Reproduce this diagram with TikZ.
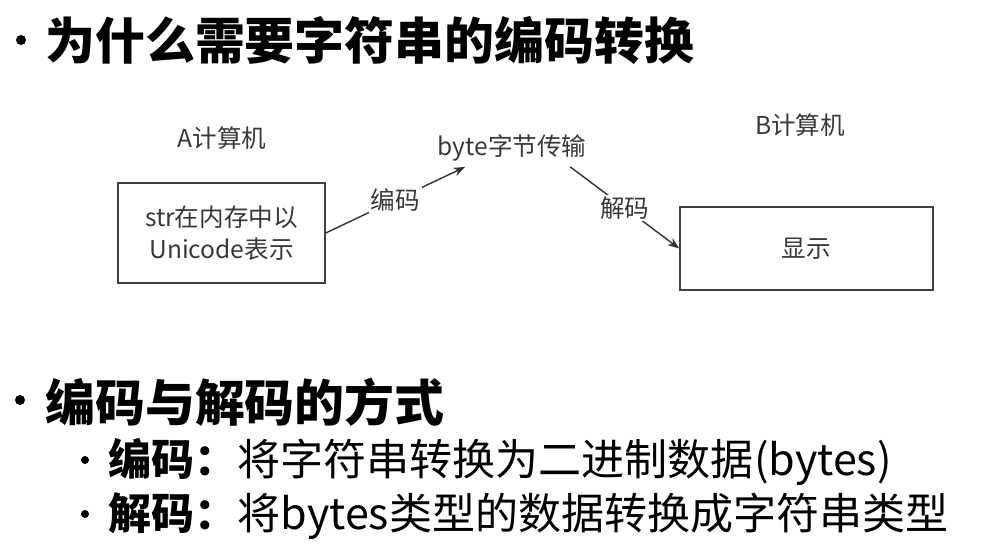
\documentclass[tikz,border=0pt]{standalone}
\usepackage{fontspec}
\setmainfont{Noto Sans CJK SC}
\usepackage{tikz}
\usetikzlibrary{arrows.meta}

\begin{document}
\begin{tikzpicture}[x=0.02cm, y=-0.02cm,
    >={Stealth},
    titulo/.style={anchor=west, inner sep=0pt, font=\fontsize{28.4}{34}\selectfont\bfseries},
    punto/.style={anchor=west, inner sep=0pt, font=\fontsize{24.5}{30}\selectfont},
    etiq/.style={text=black!78, font=\fontsize{14}{18}\selectfont, inner sep=3pt},
    caja/.style={etiq, draw=black!75, line width=0.9pt, align=center},
    flecha/.style={->, draw=black!80, line width=0.8pt},
    rotulo/.style={etiq, fill=white, inner sep=1pt}]

    \useasboundingbox (0,0) rectangle (992,560);

    % Titulo
    \fill (21,40) circle[radius=0.1cm];
    \node[titulo] (tit) at (45,41) {为什么需要字符串的编码转换};

    % Computadoras
    \node[etiq] (pcA) at (222,138) {A计算机};
    \node[etiq] (pcB) at (800,125) {B计算机};
    \node[caja, minimum width=4.14cm, minimum height=2cm] (strbox)
        at (221.5,233) {str在内存中以\\Unicode表示};
    \node[caja, minimum width=5.06cm, minimum height=1.66cm] (showbox)
        at (806.5,248.5) {显示};

    % Transmision
    \node[etiq] (bytes) at (512,148) {byte字节传输};
    \draw[flecha] (strbox.east) -- node[rotulo] {编码} (bytes.202);
    \draw[flecha] (bytes.342) -- node[rotulo] {解码} (showbox.west);

    % Codificar y decodificar
    \fill (20,400) circle[radius=0.1cm];
    \node[titulo] (modo) at (45,402) {编码与解码的方式};
    \fill (85,460) circle[radius=0.08cm];
    \node[punto] (enc) at (108,462) {\textbf{编码：}将字符串转换为二进制数据(bytes)};
    \fill (85,514) circle[radius=0.08cm];
    \node[punto] (dec) at (108,516) {\textbf{解码：}将bytes类型的数据转换成字符串类型};
\end{tikzpicture}
\end{document}
